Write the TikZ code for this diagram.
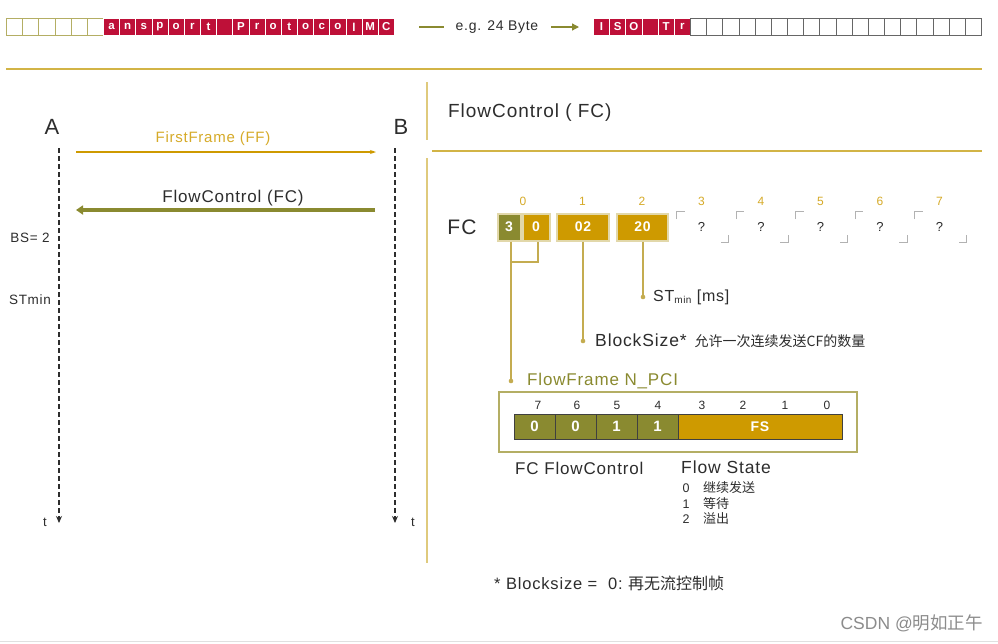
\documentclass[tikz,border=0pt]{standalone}
\usepackage{fontspec}
\setmainfont[LetterSpace=5]{Liberation Sans}
\newfontfamily\cjk{Noto Sans CJK SC}
\newfontfamily\plainsans{Liberation Sans}
\usetikzlibrary{arrows.meta}
\definecolor{gold}{RGB}{206,154,0}
\definecolor{olive}{RGB}{138,138,48}
\definecolor{sepline}{RGB}{210,180,70}
\definecolor{frameol}{RGB}{180,174,100}
\definecolor{crimson}{RGB}{190,16,56}
\definecolor{txt}{RGB}{45,45,45}
\definecolor{cellrim}{RGB}{226,216,170}
\definecolor{conn}{RGB}{196,172,80}
\definecolor{idx}{RGB}{214,170,40}
\newcommand\myfs[1]{\fontsize{#1}{#1}\selectfont}
\begin{document}
\begin{tikzpicture}[x=1pt,y=-1pt,
  redcell/.style={draw=white, line width=0.8pt, fill=crimson, minimum width=16.17pt,
    minimum height=17pt, inner sep=0pt, text=white, font=\myfs{11.5}\bfseries, anchor=north west},
  olcell/.style={draw=frameol, line width=0.8pt, minimum width=16.17pt,
    minimum height=17pt, inner sep=0pt, anchor=north west},
  grcell/.style={draw=black!60, line width=0.7pt, minimum width=16.17pt,
    minimum height=17pt, inner sep=0pt, anchor=north west},
  lbl/.style={text=txt, inner sep=0pt},
  lifeline/.style={draw=txt, line width=1.3pt, dash pattern=on 4.5pt off 3.5pt,
    -{Stealth[length=7pt,width=6pt]}},
  bytecell/.style={draw=cellrim, line width=2pt, minimum height=27pt, inner sep=0pt,
    text=white, font=\myfs{14}\bfseries},
  bitcell/.style={draw=black!75, line width=0.8pt, minimum height=25pt, inner sep=0pt,
    text=white, font=\myfs{15}\bfseries},
  connline/.style={draw=conn, line width=1.2pt},
  qbrack/.style={draw=black!30, line width=0.8pt},
]
\useasboundingbox (0,0) rectangle (998,643);
\fill[white] (0,0) rectangle (998,643);

% ---- top byte row ----
\foreach \i in {0,...,5} { \node[olcell] (LE\i) at ({6+\i*16.17},18) {}; }
\foreach \c [count=\i from 0] in {a,n,s,p,o,r,t,{},P,r,o,t,o,c,o,l,M,C}
  { \node[redcell] (LR\i) at ({103+\i*16.17},18) {\c}; }
\coordinate (d1) at (419,27); \coordinate (d2) at (444,27);
\draw[olive, line width=1.3pt] (d1) -- (d2);
\node[lbl, font=\myfs{14}] (eg) at (497,27) {e.g. 24 Byte};
\coordinate (e1) at (551,27); \coordinate (e2) at (579,27);
\draw[olive, line width=1.3pt, -{Triangle[length=7pt,width=7pt]}] (e1) -- (e2);
\foreach \c [count=\i from 0] in {I,S,O,{},T,r}
  { \node[redcell] (RR\i) at ({593+\i*16.17},18) {\c}; }
\foreach \i in {0,...,17} { \node[grcell] (RE\i) at ({690+\i*16.17},18) {}; }

% ---- separators ----
\coordinate (h1) at (6,69); \coordinate (h2) at (982,69);
\draw[sepline, line width=1.2pt] (h1) -- (h2);
\coordinate (v1) at (427,82); \coordinate (v2) at (427,140);
\coordinate (v3) at (427,158); \coordinate (v4) at (427,563);
\draw[sepline!70, line width=1.2pt] (v1) -- (v2) (v3) -- (v4);
\coordinate (h3) at (432,151); \coordinate (h4) at (982,151);
\draw[sepline, line width=1.2pt] (h3) -- (h4);

% ---- sequence ----
\node[lbl, font=\myfs{22}] (A) at (52,127) {A};
\node[lbl, font=\myfs{22}] (B) at (401,127) {B};
\coordinate (Atop) at (59,148); \coordinate (Abot) at (59,523);
\coordinate (Btop) at (395,148); \coordinate (Bbot) at (395,523);
\draw[lifeline] (Atop) -- (Abot);
\draw[lifeline] (Btop) -- (Bbot);
\node[lbl, font=\myfs{13}] (tA) at (45,522) {t};
\node[lbl, font=\myfs{13}] (tB) at (413,522) {t};
\coordinate (ff1) at (76,152); \coordinate (ff2) at (376,152);
\draw[gold, line width=1.6pt, -{Stealth[length=6pt,width=4pt]}] (ff1) -- (ff2);
\node[lbl, text=idx, font=\myfs{15}] (fflbl) at (213,139) {FirstFrame (FF)};
\coordinate (fc1) at (375,210); \coordinate (fc2) at (76,210);
\draw[olive, line width=3.5pt, -{Triangle[length=7pt,width=9pt]}] (fc1) -- (fc2);
\node[lbl, font=\myfs{17}] (fclbl) at (233,198) {FlowControl (FC)};
\node[lbl, font=\myfs{13.5}] (bs2) at (30,238) {BS= 2};
\node[lbl, font=\myfs{13.5}] (stm) at (30,300) {STmin};

% ---- FC frame layout ----
\node[lbl, anchor=west, font=\myfs{19}] (hdr) at (448,113) {FlowControl ( FC)};
\node[lbl, font=\myfs{21}] (FC) at (462,227) {FC};
\foreach \i in {0,...,7} { \node[lbl, text=idx, font=\myfs{12}] (ix\i) at ({523+\i*59.5},201) {\i}; }
\node[bytecell, fill=olive, minimum width=23pt] (c3) at (509,227) {3};
\node[bytecell, fill=gold, minimum width=27pt] (c0) at (536,227) {0};
\node[bytecell, fill=gold, minimum width=52pt] (c02) at (583,227) {02};
\node[bytecell, fill=gold, minimum width=51pt] (c20) at (642.5,227) {20};
\foreach \i in {3,...,7} {
  \pgfmathsetmacro\cx{523+\i*59.5}
  \draw[qbrack] (\cx-25,219) -- (\cx-25,211) -- (\cx-17,211);
  \draw[qbrack] (\cx+27,235) -- (\cx+27,242) -- (\cx+19,242);
  \node[lbl, font=\myfs{13}] (q\i) at (\cx,227) {?};
}
% connectors
\coordinate (j1) at (511,262); \coordinate (j2) at (538,262);
\coordinate (p1) at (511,381); \coordinate (p2) at (583,341); \coordinate (p3) at (643,297);
\draw[connline] (c3.south -| j1) -- (j1) -- (j2) -- (c0.south -| j2);
\draw[connline] (j1) -- (p1);
\draw[connline] (c02.south -| p2) -- (p2);
\draw[connline] (c20.south -| p3) -- (p3);
\foreach \p in {p1,p2,p3} { \fill[conn] (\p) circle (2.3pt); }
\node[lbl, anchor=west, font=\myfs{16}] (stlbl) at (653,297) {ST\raisebox{-2.5pt}{\myfs{10}min} [ms]};
\node[lbl, anchor=west, font=\myfs{17.5}] (bslbl) at (595,341) {BlockSize*\hspace{8pt}{\cjk\myfs{14}允许一次连续发送CF的数量}};
\node[lbl, anchor=west, text=olive, font=\myfs{17}] (nlbl) at (527,381) {FlowFrame N\_PCI};

% N_PCI byte
\node[draw=frameol, line width=1.5pt, minimum width=358pt, minimum height=60pt, inner sep=0pt] (frame) at (678,422) {};
\foreach \v [count=\i from 0] in {0,0,1,1}
  { \node[bitcell, fill=olive, minimum width=41pt] (bit\i) at ({534.5+\i*41},426.5) {\v}; }
\node[bitcell, fill=gold, minimum width=164pt, font=\myfs{14}\bfseries] (fs) at (760,426.5) {FS};
\foreach \n/\x in {7/538,6/577,5/617,4/658,3/702,2/743,1/785,0/827}
  { \node[lbl, font=\myfs{12}] (bn\n) at (\x,405) {\n}; }
\node[lbl, anchor=west, font=\myfs{17}] (fcfc) at (515,468) {FC FlowControl};
\node[lbl, anchor=west, font=\myfs{17.5}] (fstate) at (681,467) {Flow State};
\foreach \n/\y/\t in {0/488/继续发送,1/504/等待,2/519/溢出} {
  \node[lbl, font=\myfs{12.5}] (sn\n) at (686,\y) {\n};
  \node[lbl, anchor=west, font=\cjk\myfs{13}] (st\n) at (703,\y) {\t};
}

% footnote
\node[lbl, anchor=west, font=\myfs{16.5}] (foot) at (494,583) {* Blocksize =\ \ 0:\ {\cjk\myfs{16}再无流控制帧}};
\node[lbl, anchor=east, text=black!45, font=\plainsans\myfs{17.5}] (wm) at (983,623) {CSDN @{\cjk 明如正午}};
\coordinate (b1) at (0,641); \coordinate (b2) at (998,641);
\draw[black!12, line width=1pt] (b1) -- (b2);
\end{tikzpicture}
\end{document}
